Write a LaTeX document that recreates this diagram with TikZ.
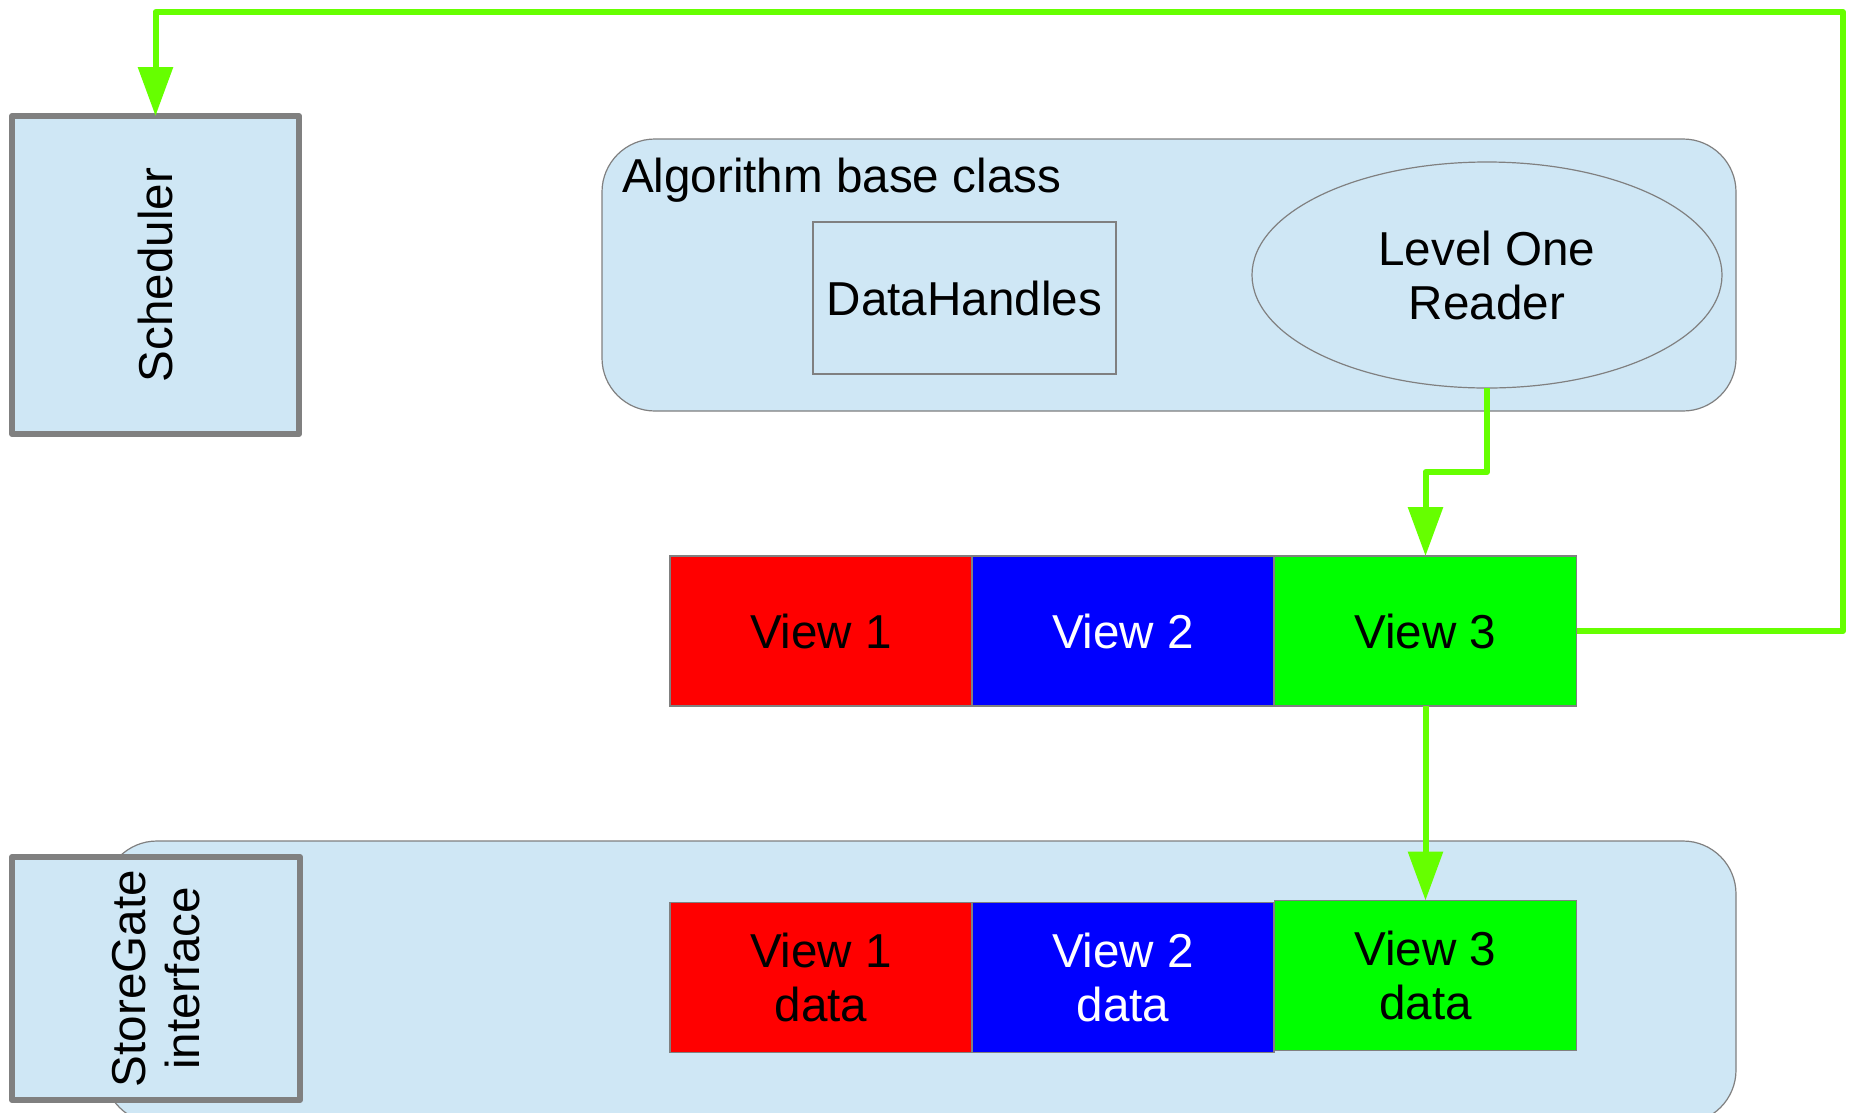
\documentclass[tikz,border=0pt]{standalone}
\usepackage{fontspec}
\setmainfont{Liberation Sans}
\usetikzlibrary{arrows.meta,shapes.geometric}
\definecolor{lblue}{RGB}{207,231,245}
\definecolor{lgreen}{RGB}{102,255,0}
\definecolor{bgray}{RGB}{128,128,128}
\begin{document}
\begin{tikzpicture}[x=1pt,y=-1pt,
  base/.style={font=\fontsize{47.6}{54}\selectfont, inner sep=0pt, outer sep=0pt, align=center},
  viewbox/.style={base, draw=bgray, line width=1.2pt, minimum width=302pt, minimum height=150pt},
  thickbox/.style={base, draw=bgray, line width=6pt, line join=round, fill=lblue},
  container/.style={draw=bgray, line width=1.2pt, fill=lblue, rounded corners=53pt, inner sep=0pt, outer sep=0pt},
  flow/.style={draw=lgreen, line width=6pt, line join=round, -{Triangle[length=49pt,width=34pt]}}
]
\useasboundingbox (0,0) rectangle (1850,1112);
\clip (0,0) rectangle (1850,1112);
\fill[white] (0,0) rectangle (1850,1112);

% containers
\node[container, minimum width=1134pt, minimum height=272pt] (alg) at (1169,275) {};
\node[base, anchor=base west] (algtxt) at (622,192) {Algorithm base class};
\node[container, minimum width=1632pt, minimum height=282pt] (sg) at (920,982) {};

% inner elements
\node[viewbox, fill=lblue, minimum width=303pt, minimum height=152pt] (dh) at (964.5,298) {DataHandles};
\node[base, ellipse, draw=bgray, line width=1.2pt, fill=lblue, minimum width=470pt, minimum height=226pt] (lor) at (1487,275) {Level One\\Reader};

% scheduler & storegate interface
\node[thickbox, minimum width=287pt, minimum height=318pt] (sched) at (155.5,275) {};
\node[base, rotate=90] (schedtxt) at (sched.center) {Scheduler};
\node[thickbox, minimum width=288pt, minimum height=243pt] (sgi) at (156,978.5) {};
\node[base, rotate=90] (sgitxt) at (sgi.center) {StoreGate\\interface};

% views
\node[viewbox, fill=red] (v1) at (821,631) {View 1};
\node[viewbox, fill=blue, text=white] (v2) at (1123,631) {View 2};
\node[viewbox, fill=green] (v3) at (1425.5,631) {View 3};

\node[viewbox, fill=red] (v1d) at (821,977.5) {View 1\\data};
\node[viewbox, fill=blue, text=white] (v2d) at (1123,977.5) {View 2\\data};
\node[viewbox, fill=green] (v3d) at (1425.5,975.5) {View 3\\data};

% connectors
\coordinate (bend) at (1487,472);
\coordinate (ne) at (1843,12);
\draw[flow] (lor.south) -- (bend) -| (v3.north);
\draw[flow] (v3.south) -- (v3d.north);
\draw[flow] (v3.east) -| (ne) -| (sched.north);
\end{tikzpicture}
\end{document}
